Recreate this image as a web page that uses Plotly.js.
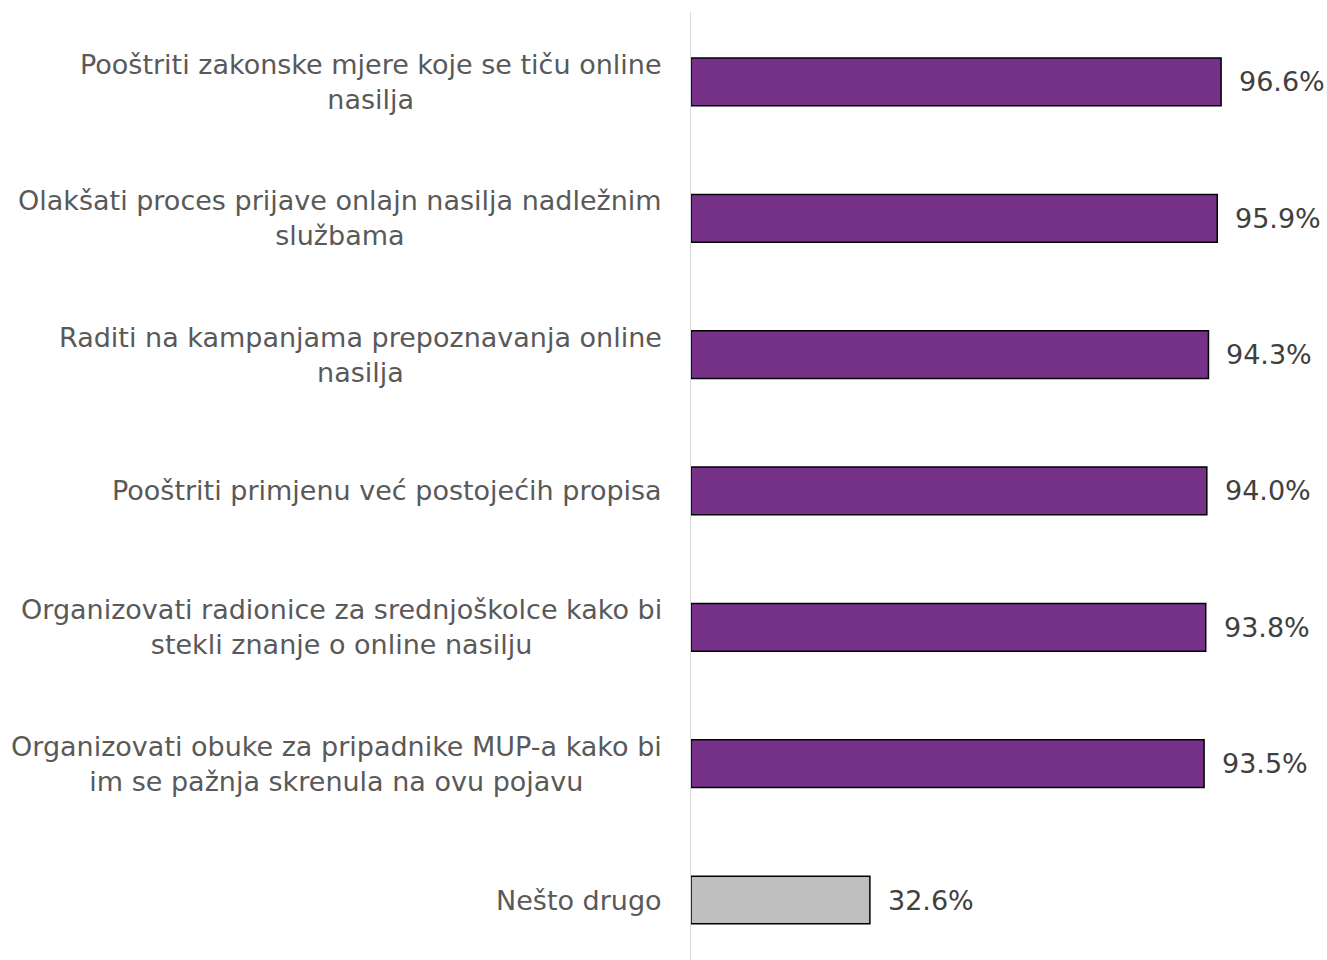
<!DOCTYPE html>
<html>
<head>
<meta charset="utf-8">
<script src="https://cdn.plot.ly/plotly-3.0.1.min.js"></script>
<style>
  html, body { margin: 0; padding: 0; background: #fff; }
  #chart { width: 1327px; height: 960px; }
</style>
</head>
<body>
<div id="chart"></div>
<script>
const categories = [
  'Pooštriti zakonske mjere koje se tiču online<br>nasilja',
  'Olakšati proces prijave onlajn nasilja nadležnim<br>službama',
  'Raditi na kampanjama prepoznavanja online<br>nasilja',
  'Pooštriti primjenu već postojećih propisa',
  'Organizovati radionice za srednjoškolce kako bi<br>stekli znanje o online nasilju',
  'Organizovati obuke za pripadnike MUP-a kako bi<br>im se pažnja skrenula na ovu pojavu',
  'Nešto drugo'
];
const values = [96.6, 95.9, 94.3, 94.0, 93.8, 93.5, 32.6];
const barColors = ['#763289', '#763289', '#763289', '#763289', '#763289', '#763289', '#BFBFBF'];

const FONT = 'DejaVu Sans, Liberation Sans, sans-serif';
const idx = categories.map((_, i) => i);

const trace = {
  type: 'bar',
  orientation: 'h',
  x: values,
  y: idx,
  marker: {color: barColors, line: {color: '#000000', width: 1.5}},
  hoverinfo: 'none'
};

const annotations = [];
categories.forEach((c, i) => {
  annotations.push({
    xref: 'paper', yref: 'y', x: 0, y: i,
    text: c, showarrow: false,
    xanchor: 'right', yanchor: 'middle', align: 'center', xshift: -27,
    font: {family: FONT, size: 27, color: '#595959'}
  });
  annotations.push({
    xref: 'x', yref: 'y', x: values[i], y: i,
    text: values[i].toFixed(1) + '%', showarrow: false,
    xanchor: 'left', yanchor: 'middle', xshift: 16,
    font: {family: FONT, size: 27, color: '#404040'}
  });
});

const layout = {
  width: 1327, height: 960,
  margin: {l: 691, r: 0, t: 12, b: 0},
  paper_bgcolor: '#ffffff', plot_bgcolor: '#ffffff',
  bargap: 0.65,
  showlegend: false,
  xaxis: {range: [0, 115.9], visible: false, fixedrange: true},
  yaxis: {
    range: [6.44, -0.513], showticklabels: false, showgrid: false, zeroline: false,
    showline: true, linecolor: '#D9D9D9', linewidth: 1.5, ticks: '', fixedrange: true
  },
  annotations: annotations
};

Plotly.newPlot('chart', [trace], layout, {displayModeBar: false, staticPlot: true});
</script>
</body>
</html>
